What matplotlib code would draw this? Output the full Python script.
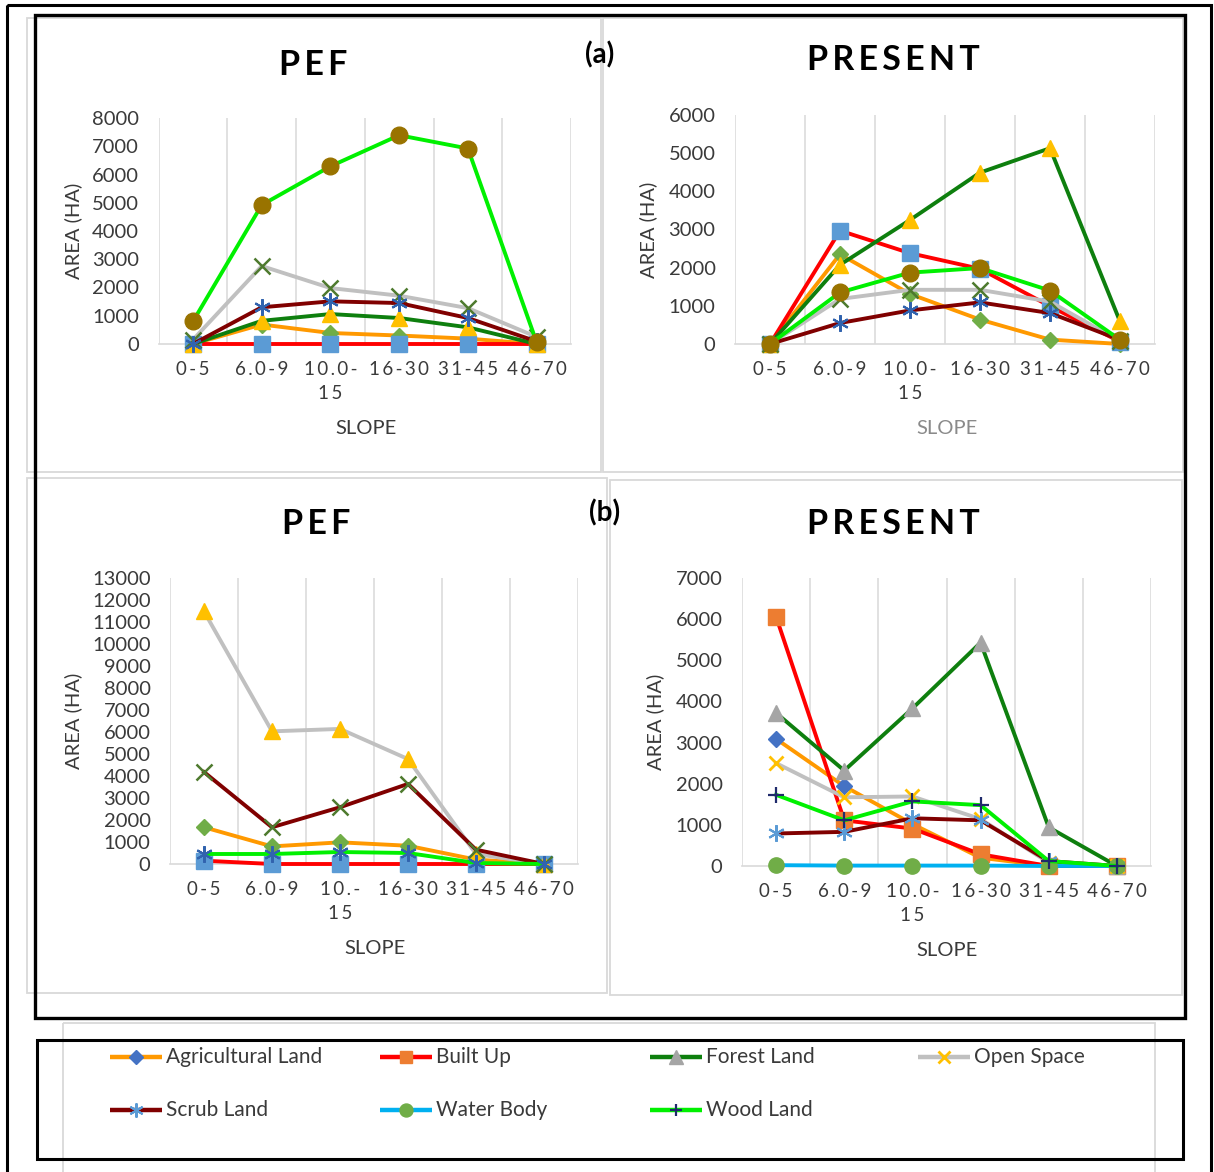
import matplotlib
matplotlib.use("Agg")
import matplotlib.pyplot as plt
from matplotlib.patches import Rectangle

W, H = 1214, 1172
FONT = ["Lato", "DejaVu Sans"]
plt.rcParams["font.family"] = FONT

# ---------- data (area in ha per slope class) ----------
slopes = ["0-5", "6.0-9", "10.0-\n15", "16-30", "31-45", "46-70"]
slopes_b_pef = ["0-5", "6.0-9", "10.-\n15", "16-30", "31-45", "46-70"]

a_pef_agri = [0, 690, 390, 300, 190, 0]
a_pef_built = [0, 0, 0, 0, 0, 0]
a_pef_forest = [0, 820, 1060, 920, 590, 0]
a_pef_open = [150, 2760, 1980, 1710, 1270, 250]
a_pef_scrub = [0, 1300, 1510, 1450, 920, 90]
a_pef_wood = [800, 4920, 6290, 7390, 6920, 60]

a_pres_agri = [0, 2350, 1310, 640, 115, 0]
a_pres_built = [0, 2970, 2380, 1970, 990, 60]
a_pres_forest = [0, 2075, 3250, 4490, 5130, 590]
a_pres_open = [0, 1180, 1420, 1420, 1110, 70]
a_pres_scrub = [0, 550, 880, 1090, 810, 110]
a_pres_wood = [0, 1350, 1870, 1990, 1400, 110]

b_pef_agri = [1670, 800, 985, 830, 200, 0]
b_pef_built = [150, 0, 0, 0, 0, 0]
b_pef_open = [11480, 6030, 6140, 4770, 450, 0]
b_pef_scrub = [4180, 1670, 2580, 3640, 650, 0]
b_pef_wood = [455, 455, 545, 500, 45, 0]

b_pres_agri = [3090, 1940, 1020, 200, 0, 0]
b_pres_built = [6060, 1110, 910, 285, 0, 0]
b_pres_forest = [3720, 2320, 3830, 5430, 940, 0]
b_pres_open = [2500, 1670, 1690, 1140, 80, 0]
b_pres_scrub = [790, 830, 1160, 1110, 120, 0]
b_pres_water = [20, 10, 10, 10, 0, 0]
b_pres_wood = [1730, 1110, 1570, 1480, 120, 0]

# ---------- styles ----------
AGRI, BUILT, FOREST, OPEN = "#FF9900", "#FF0000", "#0E7F0E", "#C0C0C0"
SCRUB, WATER, WOOD = "#800000", "#00B0F0", "#00F000"

DIAM_B = dict(marker="D", ms=8.5, mfc="#4472C4", mec="#4472C4")
DIAM_G = dict(marker="D", ms=8.5, mfc="#70AD47", mec="#70AD47")
SQ_O = dict(marker="s", ms=11, mfc="#ED7D31", mec="#ED7D31")
SQ_B = dict(marker="s", ms=11, mfc="#5B9BD5", mec="#5B9BD5")
TRI_G = dict(marker="^", ms=12, mfc="#A5A5A5", mec="#A5A5A5")
TRI_Y = dict(marker="^", ms=12, mfc="#FFC000", mec="#FFC000")
X_Y = dict(marker="x", ms=10, mew=2, mec="#FFC000")
X_O = dict(marker="x", ms=11, mew=1.8, mec="#4E7A2E")
AST_L = dict(marker=(6, 2, 0), ms=12, mew=1.5, mec="#5B9BD5")
AST_D = dict(marker=(6, 2, 0), ms=12, mew=1.5, mec="#3163AE")
CIR_G = dict(marker="o", ms=11, mfc="#70AD47", mec="#70AD47")
CIR_BR = dict(marker="o", ms=12, mfc="#997300", mec="#997300")
PLUS_N = dict(marker="+", ms=11, mew=1.6, mec="#1F2A6B")

TXT = "#3A3A3A"


def sp(s, ch="\u2009"):
    return "\n".join(ch.join(line) for line in s.split("\n"))


def px(l, t, r, b):
    return [l / W, 1 - b / H, (r - l) / W, (b - t) / H]


fig = plt.figure(figsize=(W / 100, H / 100), dpi=100)
fig.patch.set_facecolor("white")

# overlay in pixel coordinates for frames and legend
ov = fig.add_axes([0, 0, 1, 1])
ov.set_xlim(0, W); ov.set_ylim(H, 0); ov.axis("off")

for (x0, y0, x1, y1) in [(27, 18, 601, 472), (603, 18, 1183, 472),
                         (27, 478, 607, 993), (610, 480, 1182, 995),
                         (63, 1023, 1155, 1180)]:
    ov.add_patch(Rectangle((x0, y0), x1 - x0, y1 - y0, fill=False,
                           ec="#D9D9D9", lw=1.3))
ov.add_patch(Rectangle((7, 5), 1204, 1190, fill=False, ec="black", lw=2.2))
ov.add_patch(Rectangle((35, 15), 1150, 1003, fill=False, ec="black", lw=2.4))
ov.add_patch(Rectangle((37, 1040), 1146, 119, fill=False, ec="black", lw=2.2))


def panel(rect, ymax, labels, series, title, tpos, ylab_x, slope_pos, slope_col=TXT):
    ax = fig.add_axes(px(*rect))
    ax.set_facecolor("none")
    x = list(range(len(labels)))
    for vals, col, mk in series:
        ax.plot(x, vals, color=col, lw=2.8, solid_joinstyle="round",
                clip_on=False, **mk)
    ax.set_xlim(-0.5, len(labels) - 0.5)
    ax.set_ylim(0, ymax)
    for g in range(len(labels) + 1):
        ax.axvline(g - 0.5, color="#D9D9D9", lw=1.1, zorder=0)
    for s in ["top", "right", "left"]:
        ax.spines[s].set_visible(False)
    ax.spines["bottom"].set_color("#D9D9D9")
    ax.spines["bottom"].set_linewidth(1.2)
    ax.spines["bottom"].set_zorder(0)
    ax.set_yticks(range(0, ymax + 1, 1000))
    ax.set_xticks(x)
    ax.set_xticklabels([sp(l) for l in labels], linespacing=1.55)
    ax.tick_params(axis="y", length=0, pad=14, labelsize=14.5, labelcolor=TXT)
    ax.tick_params(axis="x", length=0, pad=12, labelsize=13.5, labelcolor=TXT)
    fig.text(tpos[0] / W, 1 - tpos[1] / H, sp(title, "\u2009"), fontsize=24.5,
             fontweight="bold", ha="center", va="center", color="black")
    fig.text(ylab_x / W, 1 - ((rect[1] + rect[3]) / 2) / H, "AREA (HA)",
             rotation=90, fontsize=14.5, ha="center", va="center", color=TXT)
    fig.text(slope_pos[0] / W, 1 - slope_pos[1] / H, "SLOPE", fontsize=14.5,
             ha="center", va="center", color=slope_col)
    return ax


panel((158.6, 118, 571, 344), 8000, slopes,
      [(a_pef_agri, AGRI, DIAM_G), (a_pef_built, BUILT, SQ_B),
       (a_pef_forest, FOREST, TRI_Y), (a_pef_open, OPEN, X_O),
       (a_pef_scrub, SCRUB, AST_D), (a_pef_wood, WOOD, CIR_BR)],
      "PEF", (313, 65), 73, (366, 428))

panel((735, 115, 1155, 344), 6000, slopes,
      [(a_pres_agri, AGRI, DIAM_G), (a_pres_built, BUILT, SQ_B),
       (a_pres_forest, FOREST, TRI_Y), (a_pres_open, OPEN, X_O),
       (a_pres_scrub, SCRUB, AST_D), (a_pres_wood, WOOD, CIR_BR)],
      "PRESENT", (893, 60), 648, (947, 429), slope_col="#8A8A8A")

panel((170, 578, 578, 864), 13000, slopes_b_pef,
      [(b_pef_agri, AGRI, DIAM_G), (b_pef_built, BUILT, SQ_B),
       (b_pef_open, OPEN, TRI_Y), (b_pef_scrub, SCRUB, X_O),
       (b_pef_wood, WOOD, AST_D)],
      "PEF", (316, 524), 73, (375, 948))

panel((742, 578, 1151, 866), 7000, slopes,
      [(b_pres_agri, AGRI, DIAM_B), (b_pres_built, BUILT, SQ_O),
       (b_pres_forest, FOREST, TRI_G), (b_pres_open, OPEN, X_Y),
       (b_pres_scrub, SCRUB, AST_L), (b_pres_water, WATER, CIR_G),
       (b_pres_wood, WOOD, PLUS_N)],
      "PRESENT", (893, 524), 655, (947, 950))

fig.text(600 / W, 1 - 55 / H, "(a)", fontsize=20, fontweight="bold",
         ha="center", va="center")
fig.text(605 / W, 1 - 513 / H, "(b)", fontsize=20, fontweight="bold",
         ha="center", va="center")

# legend
legend_items = [("Agricultural Land", AGRI, DIAM_B), ("Built Up", BUILT, SQ_O),
                ("Forest Land", FOREST, TRI_G), ("Open Space", OPEN, X_Y),
                ("Scrub Land", SCRUB, AST_L), ("Water Body", WATER, CIR_G),
                ("Wood Land", WOOD, PLUS_N)]
col_x = [110, 380, 650, 918]
row_y = [1057, 1110]
for i, (name, col, mk) in enumerate(legend_items):
    lx, ly = col_x[i % 4], row_y[i // 4]
    ov.plot([lx, lx + 52], [ly, ly], color=col, lw=3.2, solid_capstyle="butt")
    m = dict(mk); m["ms"] = m["ms"] * 0.85
    ov.plot([lx + 26], [ly], **m)
    ov.text(lx + 56, ly, name, fontsize=15, color=TXT, va="center", ha="left")

fig.savefig("out.png", dpi=100, facecolor="white")
